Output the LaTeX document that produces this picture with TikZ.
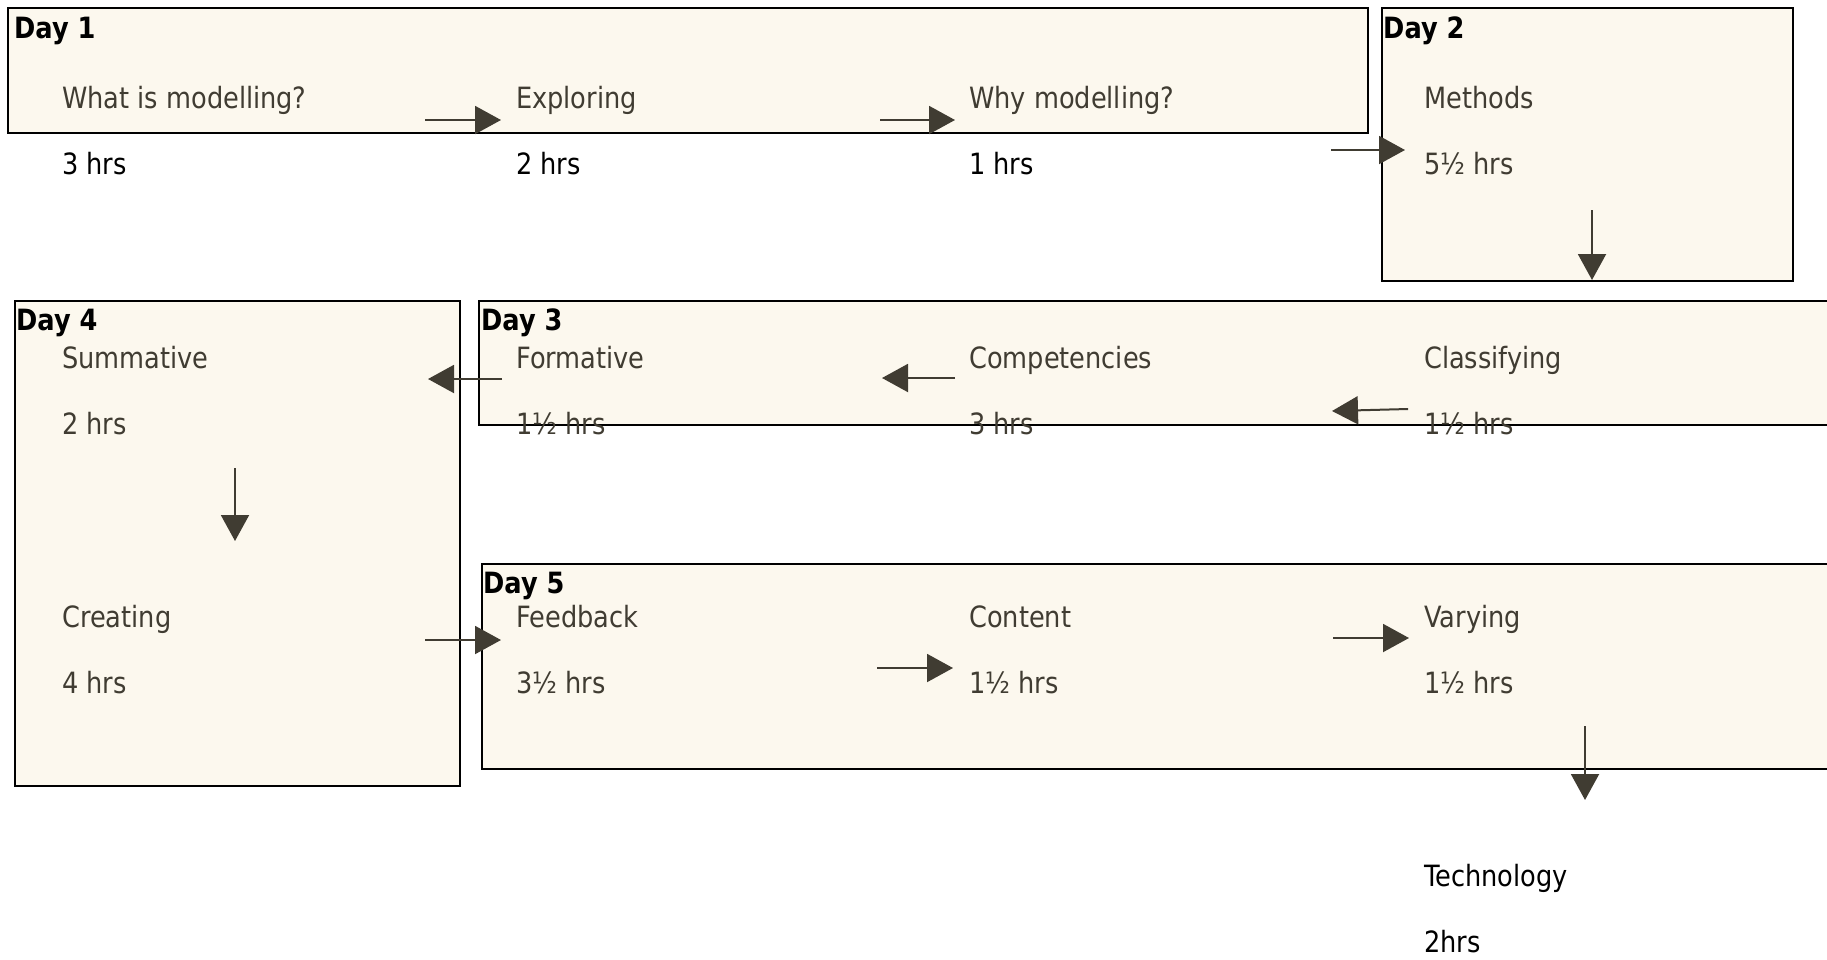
\documentclass[tikz,border=0pt]{standalone}
\usepackage{fontspec}
\setmainfont{DejaVu Sans}[FakeStretch=0.875]
\usetikzlibrary{arrows.meta}
\definecolor{txt}{RGB}{64,60,50}
\definecolor{boxfill}{RGB}{252,248,238}
\begin{document}
\begin{tikzpicture}[x=1pt,y=-1pt,
  daybox/.style={draw=black, line width=2.4pt, fill=boxfill, anchor=north west, inner sep=0pt, outer sep=0pt},
  daylabel/.style={anchor=base west, inner sep=0pt, font=\fontsize{29.3}{30}\selectfont\bfseries, text=black},
  item/.style={anchor=base west, inner sep=0pt, font=\fontsize{29.3}{30}\selectfont, text=txt},
  plain/.style={anchor=base west, inner sep=0pt, font=\fontsize{29.3}{30}\selectfont, text=black},
  flow/.style={draw=txt, line width=2pt, -{Triangle[length=26pt,width=28pt]}}
]
\clip (0,0) rectangle (1827,959);
% boxes
\node[daybox, minimum width=1360pt, minimum height=125pt] (b1) at (8,8) {};
\node[daybox, minimum width=411pt, minimum height=273pt] (b2) at (1382,8) {};
\node[daybox, minimum width=1380pt, minimum height=124pt] (b3) at (479,301) {};
\node[daybox, minimum width=445pt, minimum height=485pt] (b4) at (15,301) {};
\node[daybox, minimum width=1380pt, minimum height=205pt] (b5) at (482,564) {};
% Day labels
\node[daylabel] (d1) at (14,38) {Day 1};
\node[daylabel] (d2) at (1383,38) {Day 2};
\node[daylabel] (d3) at (481,330) {Day 3};
\node[daylabel] (d4) at (16,330) {Day 4};
\node[daylabel] (d5) at (483,593) {Day 5};
% Day 1
\node[item] (t11) at (62,108) {What is modelling?};
\node[plain] (h11) at (62,174) {3 hrs};
\node[item] (t12) at (516,108) {Exploring};
\node[plain] (h12) at (516,174) {2 hrs};
\node[item] (t13) at (969,108) {Why modelling?};
\node[plain] (h13) at (969,174) {1 hrs};
% Day 2
\node[item] (t21) at (1424,108) {Methods};
\node[item] (h21) at (1424,174) {5½ hrs};
% Day 3
\node[item] (t31) at (1424,368) {Classifying};
\node[item] (h31) at (1424,434) {1½ hrs};
\node[item] (t32) at (969,368) {Competencies};
\node[item] (h32) at (969,434) {3 hrs};
\node[item] (t33) at (516,368) {Formative};
\node[item] (h33) at (516,434) {1½ hrs};
% Day 4
\node[item] (t41) at (62,368) {Summative};
\node[item] (h41) at (62,434) {2 hrs};
\node[item] (t42) at (62,627) {Creating};
\node[item] (h42) at (62,693) {4 hrs};
% Day 5
\node[item] (t51) at (516,627) {Feedback};
\node[item] (h51) at (516,693) {3½ hrs};
\node[item] (t52) at (969,627) {Content};
\node[item] (h52) at (969,693) {1½ hrs};
\node[item] (t53) at (1424,627) {Varying};
\node[item] (h53) at (1424,693) {1½ hrs};
\node[plain] (t6) at (1424,886) {Technology};
\node[plain] (h6) at (1424,952) {2hrs};
% arrow ends
\coordinate (a1s) at (425,120);  \coordinate (a1e) at (501,120);
\coordinate (a2s) at (880,120);  \coordinate (a2e) at (955,120);
\coordinate (a3s) at (1331,150); \coordinate (a3e) at (1405,150);
\coordinate (a4s) at (1592,210); \coordinate (a4e) at (1592,280);
\coordinate (a5s) at (1408,409); \coordinate (a5e) at (1332,411);
\coordinate (a6s) at (955,378);  \coordinate (a6e) at (882,378);
\coordinate (a7s) at (502,379);  \coordinate (a7e) at (428,379);
\coordinate (a8s) at (235,468);  \coordinate (a8e) at (235,541);
\coordinate (a9s) at (425,640);  \coordinate (a9e) at (501,640);
\coordinate (a10s) at (877,668); \coordinate (a10e) at (953,668);
\coordinate (a11s) at (1333,638); \coordinate (a11e) at (1409,638);
\coordinate (a12s) at (1585,726); \coordinate (a12e) at (1585,800);
\foreach \i in {1,...,12} {\draw[flow] (a\i s) -- (a\i e);}
\end{tikzpicture}
\end{document}
